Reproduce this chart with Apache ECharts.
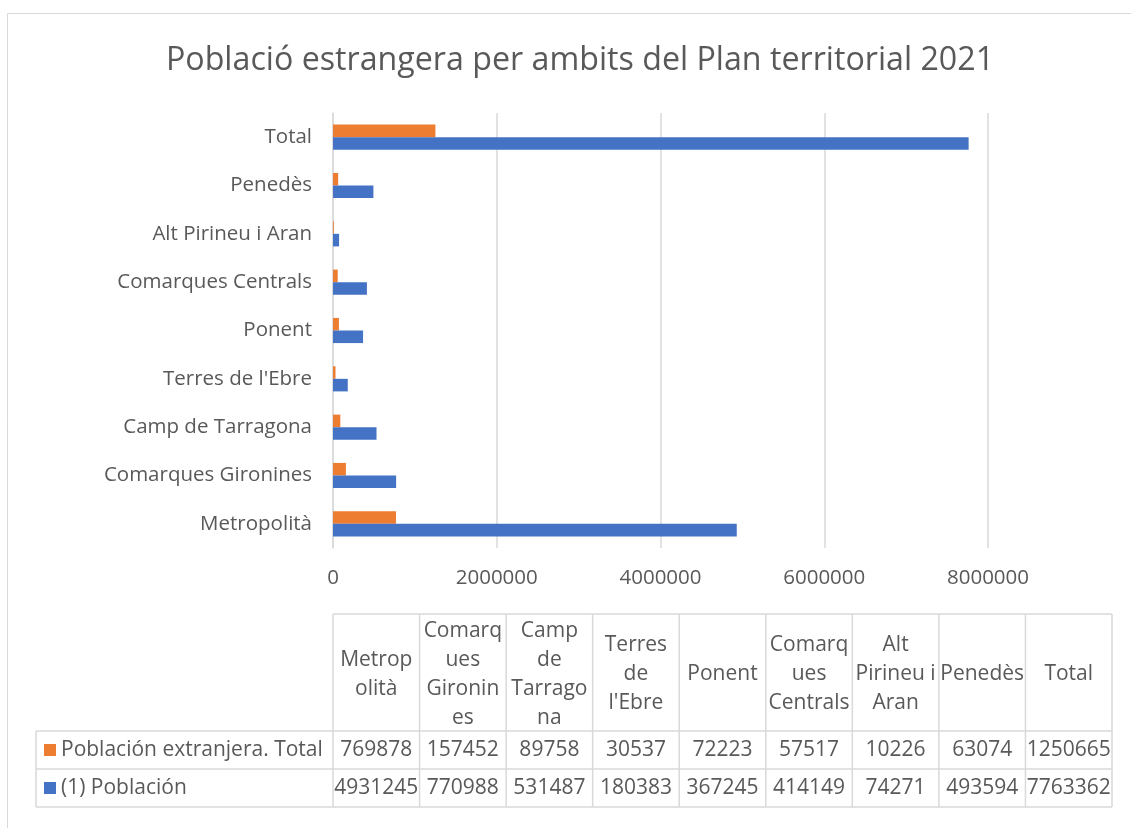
<!DOCTYPE html>
<html>
<head>
<meta charset="utf-8">
<script src="https://cdn.jsdelivr.net/npm/echarts@6/dist/echarts.min.js"></script>
<style>
html,body{margin:0;padding:0;background:#fff;}
#chart{width:1131px;height:828px;}
</style>
</head>
<body>
<div id="chart"></div>
<script>
// ---- data ----
const categories = ['Metropolità', 'Comarques Gironines', 'Camp de Tarragona', "Terres de l'Ebre", 'Ponent', 'Comarques Centrals', 'Alt Pirineu i Aran', 'Penedès', 'Total'];
const poblacionExtranjera = [769878, 157452, 89758, 30537, 72223, 57517, 10226, 63074, 1250665];
const poblacion = [4931245, 770988, 531487, 180383, 367245, 414149, 74271, 493594, 7763362];
const tableHeaders = ['Metrop\nolità', 'Comarq\nues\nGironin\nes', 'Camp\nde\nTarrago\nna', "Terres\nde\nl'Ebre", 'Ponent', 'Comarq\nues\nCentrals', 'Alt\nPirineu i\nAran', 'Penedès', 'Total'];
const seriesNames = ['Población extranjera. Total', '(1) Población'];
const xTicks = { min: 0, max: 8000000, interval: 2000000 };
const titleText = 'Població estrangera per ambits del Plan territorial 2021';

// ---- style ----
const FONT = "'Open Sans', sans-serif";
const TXT = '#595959';
const GRID = '#D9D9D9';
const ORANGE = '#ED7D31';
const BLUE = '#4472C4';

// ---- table layout ----
const tblLeft = 36, tblDataLeft = 333, tblRight = 1112;
const tblTop = 614, tblHeadBottom = 731, rowH = 38;
const colW = (tblRight - tblDataLeft) / categories.length;
const rowsData = [poblacionExtranjera, poblacion];
const rowColors = [ORANGE, BLUE];
const TFONT = '21px ' + FONT;

const g = [];
// outer chart border
g.push({ type: 'rect', shape: { x: 7.5, y: 13.5, width: 1140, height: 840 }, style: { fill: null, stroke: GRID, lineWidth: 1 }, silent: true });
const lineStyle = { stroke: GRID, lineWidth: 1.5 };
g.push({ type: 'line', shape: { x1: tblDataLeft, y1: tblTop, x2: tblRight, y2: tblTop }, style: lineStyle });
for (let r = 0; r <= 2; r++) {
  const y = tblHeadBottom + r * rowH;
  g.push({ type: 'line', shape: { x1: tblLeft, y1: y, x2: tblRight, y2: y }, style: lineStyle });
}
g.push({ type: 'line', shape: { x1: tblLeft, y1: tblHeadBottom, x2: tblLeft, y2: tblHeadBottom + 2 * rowH }, style: lineStyle });
for (let c = 0; c <= categories.length; c++) {
  const x = tblDataLeft + c * colW;
  g.push({ type: 'line', shape: { x1: x, y1: tblTop, x2: x, y2: tblHeadBottom + 2 * rowH }, style: lineStyle });
}
// header texts
tableHeaders.forEach((h, c) => {
  g.push({ type: 'text', x: tblDataLeft + (c + 0.5) * colW, y: (tblTop + tblHeadBottom) / 2 + 2,
    style: { text: h, font: TFONT, fill: TXT, align: 'center', verticalAlign: 'middle', lineHeight: 29 } });
});
// rows
rowsData.forEach((arr, r) => {
  const cy = tblHeadBottom + (r + 0.5) * rowH;
  g.push({ type: 'rect', shape: { x: 44, y: cy - 6, width: 12, height: 12 }, style: { fill: rowColors[r] } });
  g.push({ type: 'text', x: 61, y: cy, style: { text: seriesNames[r], font: TFONT, fill: TXT, align: 'left', verticalAlign: 'middle' } });
  arr.forEach((v, c) => {
    g.push({ type: 'text', x: tblDataLeft + (c + 0.5) * colW, y: cy,
      style: { text: String(v), font: TFONT, fill: TXT, align: 'center', verticalAlign: 'middle' } });
  });
});

const chart = echarts.init(document.getElementById('chart'), null, { renderer: 'canvas' });
chart.setOption({
  animation: false,
  backgroundColor: '#fff',
  title: {
    text: titleText, left: 575, top: 40, textAlign: 'center',
    textStyle: { fontFamily: FONT, fontSize: 32.2, fontWeight: 'normal', color: TXT }
  },
  grid: { left: 333, right: 143, top: 113, bottom: 280, containLabel: false },
  xAxis: {
    type: 'value', min: xTicks.min, max: xTicks.max, interval: xTicks.interval,
    axisLine: { show: false }, axisTick: { show: false },
    axisLabel: { color: TXT, fontFamily: FONT, fontSize: 20.5, margin: 20, formatter: v => String(v) },
    splitLine: { lineStyle: { color: GRID, width: 1.5 } }
  },
  yAxis: {
    type: 'category', data: categories,
    axisLine: { show: true, lineStyle: { color: GRID, width: 1.5 } }, axisTick: { show: false },
    axisLabel: { color: TXT, fontFamily: FONT, fontSize: 20.5, margin: 21 }
  },
  series: [
    { name: seriesNames[0], type: 'bar', data: poblacionExtranjera, itemStyle: { color: ORANGE }, barGap: '0%', barCategoryGap: '48%' },
    { name: seriesNames[1], type: 'bar', data: poblacion, itemStyle: { color: BLUE }, barGap: '0%', barCategoryGap: '48%' }
  ],
  graphic: { elements: g }
});
</script>
</body>
</html>
